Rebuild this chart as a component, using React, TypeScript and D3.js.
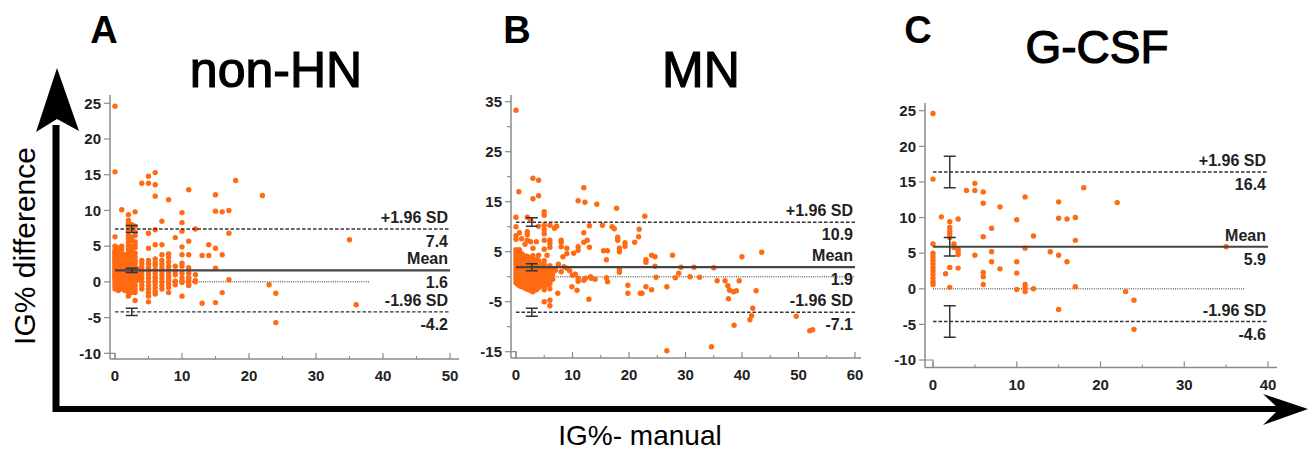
import React from 'react';
import * as d3 from 'd3';

// [x, [y, y, ...]] columns of points
type Col = [number, number[]];

const panelLetters = ['A', 'B', 'C'];
const panelTitles = ['non-HN', 'MN', 'G-CSF'];

const upperLoA = [7.4, 10.9, 16.4];
const meanDiff = [1.6, 1.9, 5.9];
const lowerLoA = [-4.2, -7.1, -4.6];
const upperCI = [[6.9, 7.9], [10.1, 11.8], [14.2, 18.6]];
const meanCI = [[1.3, 1.9], [1.2, 2.6], [4.6, 7.2]];
const lowerCI = [[-4.7, -3.7], [-7.9, -6.3], [-6.8, -2.4]];
const ciAt = [2.5, 2.8, 2];
const zeroLineEnd = [38, 60, 37.3];

const xDomains = [[0, 50], [0, 60], [0, 40]];
const yDomains = [[-10, 25], [-15, 35], [-10, 25]];
const xTickLabels = [[0, 10, 20, 30, 40, 50], [0, 10, 20, 30, 40, 50, 60], [0, 10, 20, 30, 40]];
const xMinorTicks = [[5, 15, 25, 35, 45], [5, 15, 25, 35, 45, 55], [5, 15, 25, 35]];
const yTickLabels = [[-10, -5, 0, 5, 10, 15, 20, 25], [-15, -5, 5, 15, 25, 35], [-10, -5, 0, 5, 10, 15, 20, 25]];
const yMinorTicks = [[], [-10, 0, 10, 20, 30], []];

// G-CSF (panel C)
const gcsfCols: Col[] = [
  [0, [24.6, 15.4, 6.3, 5.0, 4.5, 4.0, 3.5, 3.0, 2.5, 2.0, 1.5, 1.0, 0.6]],
  [1, [10.1]],
  [1.5, [2.1]],
  [2, [9.4, 8.6, 8.1, 7.7, 7.2, 3.0, 0.2]],
  [2.5, [6.3, 5.8]],
  [3, [9.8, 5.6, 5.2, 4.8, 2.9]],
  [4, [13.8]],
  [5, [14.8, 13.8, 4.7]],
  [6, [13.6, 12.0, 7.3, 2.3, 1.7, 0.6]],
  [7, [8.5, 5.2, 3.8]],
  [8, [11.5, 2.8]],
  [10, [9.7, 3.8, 2.2, -0.1]],
  [11, [12.9, 5.7, 0.6, 0.1, -0.4]],
  [12, [7.4, 0]],
  [14, [5.2]],
  [15, [12.2, 9.9, 4.7, -2.9]],
  [16, [9.8, 3.8]],
  [17, [10.0, 6.8, 0.3]],
  [18, [14.2]],
  [22, [12.1]],
  [23, [-0.4]],
  [24, [-1.6, -5.7]],
  [35, [5.9]],
];

// non-HN (panel A): the G-CSF points plus these
const nonHnOnlyCols: Col[] = [
  [0, [-1.0, -0.6, -0.2, 0.2, 0.6, 1.0, 1.4, 1.8, 2.2, 2.6, 3.0, 3.4, 3.8, 4.2]],
  [0.25, [-0.8, -0.3, 0.2, 0.7, 1.2, 1.7, 2.2, 2.7, 3.2, 3.7, 4.2]],
  [0.5, [-1.2, -0.7, -0.2, 0.3, 0.8, 1.3, 1.8, 2.3, 2.8, 3.3, 3.8, 4.3, 4.8]],
  [0.75, [-0.9, -0.4, 0.1, 0.6, 1.1, 1.6, 2.1, 2.6, 3.1, 3.6, 4.1]],
  [1, [-1.0, -0.5, 0, 0.5, 1.0, 1.5, 2.0, 2.5, 3.0, 3.5, 4.0, 4.5, 5.0]],
  [1.25, [-0.6, -0.1, 0.4, 0.9, 1.4, 1.9, 2.4, 2.9, 3.4]],
  [1.5, [-1.2, -0.7, -0.2, 0.3, 0.8, 1.3, 1.8, 2.3, 2.8, 3.3, 3.8]],
  [2, [-2.0, -1.5, -1.0, -0.5, 0, 0.5, 1.0, 1.5, 2.0, 2.5, 3.5, 4.0, 4.5, 5.0, 5.5, 6.0, 6.5]],
  [2.5, [-1.5, -1.0, -0.5, 0, 0.5, 1.0, 1.5, 2.0, 2.5, 3.0, 3.5, 4.0, 4.5, 5.0, 7.5, 8.0]],
  [3, [-2.6, -1.5, -1.0, -0.5, 0, 0.5, 1.0, 1.5, 2.0, 2.5, 3.0, 3.5, 4.0, 6.5, 7.0, 7.8]],
  [3.5, [0.3, 1.0, 1.8]],
  [4, [-1.0, -0.5, 0, 0.5, 1.0, 1.5, 2.0, 2.5, 3.0]],
  [5, [-2.8, -2.0, -1.5, -1.0, -0.5, 0, 0.5, 1.0, 1.5, 2.0, 2.5, 3.0, 6.8]],
  [6, [-1.7, -1.3, -0.8, -0.3, 0.2, 0.7, 1.2, 2.7, 3.2, 5.2, 15.3]],
  [7, [-1.0, -0.5, 0, 0.5, 1.0, 1.5, 2.0, 2.5, 3.0]],
  [8, [-1.5, -0.8, -0.3, 0.2, 0.7, 1.2, 1.7, 2.2, 3.4, 3.9]],
  [9, [-0.4, 0.1, 1.0, 1.5, 2.2, 6.2]],
  [10, [-2.0, 0.2, 0.6, 1.2, 2.6, 4.9, 7.1, 8.3]],
  [11, [-0.5, 0.5, 1.2, 2.0, 3.8]],
  [12, [0.2, 1.0]],
  [13, [3.7, -3.0]],
  [14, [3.7]],
  [15, [1.9]],
  [16, [-1.5]],
  [36, [-3.2]],
];

// MN (panel B): dense block near zero, then single points
const mnDenseCols: Col[] = [
  [0, [-1.2, -0.6, 0, 0.6, 1.2, 1.8, 2.4, 3.0, 3.6, 4.2, 4.8, 5.4]],
  [0.3, [-1.5, -0.9, -0.3, 0.3, 0.9, 1.5, 2.1, 2.7, 3.3, 3.9, 4.5, 5.1]],
  [0.6, [-1.8, -1.2, -0.6, 0, 0.6, 1.2, 1.8, 2.4, 3.0, 3.6, 4.2, 4.8, 5.4]],
  [1.0, [-2.0, -1.4, -0.8, -0.2, 0.4, 1.0, 1.6, 2.2, 2.8, 3.4, 4.0, 4.6]],
  [1.3, [-1.7, -1.1, -0.5, 0.1, 0.7, 1.3, 1.9, 2.5, 3.1, 3.7, 4.3]],
  [1.6, [-2.3, -1.7, -1.1, -0.5, 0.1, 0.7, 1.3, 1.9, 2.5, 3.1, 3.7]],
  [2.0, [-2.5, -1.9, -1.3, -0.7, -0.1, 0.5, 1.1, 1.7, 2.3, 2.9, 3.5, 4.1]],
  [2.3, [-1.6, -1.0, -0.4, 0.2, 0.8, 1.4, 2.0, 2.6, 3.2, 3.8]],
  [2.6, [-2.8, -2.2, -1.6, -1.0, -0.4, 0.2, 0.8, 1.4, 2.0, 2.6, 3.2]],
  [3.0, [-3.0, -2.4, -1.8, -1.2, -0.6, 0, 0.6, 1.2, 1.8, 2.4, 3.0, 3.6, 4.2]],
  [3.3, [-2.0, -1.4, -0.8, -0.2, 0.4, 1.0, 1.6, 2.2, 2.8]],
  [3.6, [-2.6, -2.0, -1.4, -0.8, -0.2, 0.4, 1.0, 1.6, 2.2, 3.4]],
  [4.0, [-2.2, -1.6, -1.0, -0.4, 0.2, 0.8, 1.4, 2.0, 3.2, 4.3]],
  [4.5, [-1.8, -1.2, -0.6, 0, 0.6, 1.2, 2.4]],
  [5.0, [-2.6, -2.0, -1.4, -0.8, -0.2, 0.4, 1.0, 1.6, 2.4, 3.2]],
  [5.5, [-1.5, -0.9, -0.3, 0.3, 0.9, 1.5, 4.3]],
  [6.0, [-2.4, -1.4, -0.8, -0.2, 0.4, 1.2, 2.2]],
  [6.5, [-0.5, 0.5, 1.5]],
];

const mnScatter: [number, number][] = [
  [0, 33.3], [0.5, 17.0], [3, 19.7], [4, 19.3], [3, 15.6], [4, 16.2], [0, 11.9], [2, 11.9], [5, 13.0], [5, 12.3],
  [12, 17.8], [11, 15.2], [12.2, 14.9], [14.3, 14.5], [17.8, 13.7], [22.8, 12.1],
  [0, 10.0], [0, 8.2], [0, 7.5], [0.6, 8.8], [1.0, 7.6], [1.6, 6.5], [2, 9.0], [2, 8.4], [2, 7.3], [2.6, 7.0], [2.6, 11.4],
  [3, 5.7], [3.6, 7.0], [4, 10.1], [5, 10.3], [5, 9.4], [5, 8.6], [5, 7.3], [5, 5.5],
  [6, 10.3], [6.8, 9.7], [7.2, 10.1], [6, 7.3], [6, 6.7], [6, 5.9], [8, 7.3], [8, 6.9], [8, 6.0], [9, 5.7], [9, 4.6], [8.3, 4.0],
  [10.2, 4.7], [11, 5.3], [11, 6.0], [12, 6.9], [12, 8.8], [12.6, 7.3], [13, 10.2], [13, 5.9], [15.3, 10.3], [17, 10.0], [17.4, 9.6],
  [15.5, 5.2], [16.2, 5.2], [16, 3.4], [18, 7.9], [18, 7.3], [18.3, 5.7], [18.3, 5.0], [19.3, 6.8], [19.3, 6.1], [21, 6.9],
  [21.8, 9.5], [21.7, 8.0], [18.3, 1.5], [18.3, 0.9], [23, 3.4], [23, 2.9], [24, 4.3], [24.6, 4.0], [24.6, 2.1], [24.8, -0.1],
  [27.7, 4.3], [28.8, 0.7], [29.2, 1.9], [28.2, -0.2], [30.8, 0], [31.5, 1.9], [32.5, -0.1], [35, 1.8], [35.6, -0.8],
  [37, -0.8], [37.5, -1.8], [37.8, -2.7], [37.6, -4.4], [38.5, -3.0], [39, -2.8], [39.5, -0.8], [40, 4.0], [38.6, -9.7],
  [41.9, -6.3], [41.7, -7.8], [41.4, -8.6], [42.5, -2.8], [43.5, 4.9], [49.6, -7.9], [52, -10.8], [52.5, -10.6],
  [26.7, -14.8], [34.6, -14.0], [19.8, -3.3], [19.8, -1.7], [22, -3.3], [22.3, -3.3], [23, -2.0], [24, -2.6], [26.7, -2.0],
  [9.9, -2.0], [10.8, -2.7], [12.9, -4.5], [7.4, -3.3], [11, -0.3], [12.3, -0.3], [13.3, -0.3], [16, -0.2], [16.2, -1.0],
  [7, 1.3], [8, 1.0], [9, 1.7], [10, 0.3], [11, -0.9], [12, -0.7], [14, -0.5], [13.2, 0], [5, -5.0], [6, -4.7], [6, -5.8],
  [7.5, 2.5], [8.5, 2.0], [9.5, 1.2], [10.5, 0.5],
];

const fromCols = (cols: Col[]): [number, number][] => cols.flatMap(([x, ys]) => ys.map((y) => [x, y] as [number, number]));

const panelPoints = [
  [...fromCols(gcsfCols), ...fromCols(nonHnOnlyCols)],
  [...fromCols(mnDenseCols), ...mnScatter],
  fromCols(gcsfCols),
];

// pixel layout of each panel
const layouts = [
  { spineX: 110, x0: 115, x1: 450, yTop: 103.3, yBottom: 353.3, axisY: 359, spineTop: 95, axisEnd: 459, letterX: 104, titleX: 276, titleY: 87, titleSize: 50 },
  { spineX: 511, x0: 516, x1: 855, yTop: 101.7, yBottom: 351.7, axisY: 358, spineTop: 95, axisEnd: 861, letterX: 517, titleX: 701, titleY: 87, titleSize: 50 },
  { spineX: 925, x0: 933, x1: 1268, yTop: 110.7, yBottom: 360, axisY: 367.5, spineTop: 103, axisEnd: 1277, letterX: 918, titleX: 1097, titleY: 63, titleSize: 46 },
];

const FONT = '"Liberation Sans", Arial, Helvetica, sans-serif';
const ORANGE = '#ff6a13';
const INK = '#222';
const AXIS = '#8a8a8a';

function Panel({ i }: { i: number }) {
  const L = layouts[i];
  const x = d3.scaleLinear().domain(xDomains[i]).range([L.x0, L.x1]);
  const y = d3.scaleLinear().domain(yDomains[i]).range([L.yBottom, L.yTop]);
  const yMin = yDomains[i][0];
  const xEnd = xDomains[i][1];

  const refLines = [
    { v: upperLoA[i], label: '+1.96 SD', ci: upperCI[i], dash: '3.5,2', w: 1.4, color: '#333' },
    { v: meanDiff[i], label: 'Mean', ci: meanCI[i], dash: null, w: 2.2, color: '#444' },
    { v: lowerLoA[i], label: '-1.96 SD', ci: lowerCI[i], dash: '3.5,2', w: 1.4, color: '#333' },
  ];

  return (
    <g>
      {/* axes */}
      <line x1={L.spineX} x2={L.spineX} y1={L.spineTop} y2={L.axisY} stroke={AXIS} strokeWidth={1.5} />
      <line x1={L.spineX} x2={L.axisEnd} y1={L.axisY} y2={L.axisY} stroke={AXIS} strokeWidth={1.5} />
      <path d={`M${L.spineX},${y(yMin)}H${x(0)}V${L.axisY}`} fill="none" stroke={AXIS} strokeWidth={1.2} />
      {yTickLabels[i].map((t) => (
        <g key={'yt' + t}>
          <line x1={L.spineX - 6} x2={L.spineX} y1={y(t)} y2={y(t)} stroke={AXIS} strokeWidth={1.2} />
          <text x={L.spineX - 9} y={y(t)} dy="0.35em" textAnchor="end" fontSize={15} fontWeight="bold" fill={INK}>
            {t}
          </text>
        </g>
      ))}
      {yMinorTicks[i].map((t) => (
        <line key={'ym' + t} x1={L.spineX - 4} x2={L.spineX} y1={y(t)} y2={y(t)} stroke={AXIS} strokeWidth={1.1} />
      ))}
      {xTickLabels[i].map((t) => (
        <g key={'xt' + t}>
          <line x1={x(t)} x2={x(t)} y1={L.axisY - 6} y2={L.axisY} stroke={AXIS} strokeWidth={1.2} />
          <text x={x(t)} y={L.axisY + 22} textAnchor="middle" fontSize={15} fontWeight="bold" fill={INK}>
            {t}
          </text>
        </g>
      ))}
      {xMinorTicks[i].map((t) => (
        <line key={'xm' + t} x1={x(t)} x2={x(t)} y1={L.axisY - 3} y2={L.axisY} stroke={AXIS} strokeWidth={1.1} />
      ))}

      {/* zero line */}
      <line x1={x(0)} x2={x(zeroLineEnd[i])} y1={y(0)} y2={y(0)} stroke="#777" strokeWidth={1.5} strokeDasharray="1,1.2" />

      {/* points */}
      {panelPoints[i].map(([px, py], k) => (
        <circle key={k} cx={x(px)} cy={y(py)} r={2.7} fill={ORANGE} />
      ))}

      {/* limits of agreement, mean, CIs */}
      {refLines.map((r) => (
        <g key={r.label}>
          <line
            x1={x(0)}
            x2={x(xEnd)}
            y1={y(r.v)}
            y2={y(r.v)}
            stroke={r.color}
            strokeWidth={r.w}
            strokeDasharray={r.dash || undefined}
          />
          <path
            d={`M${x(ciAt[i]) - 6},${y(r.ci[0])}H${x(ciAt[i]) + 6}M${x(ciAt[i])},${y(r.ci[0])}V${y(r.ci[1])}M${x(ciAt[i]) - 6},${y(r.ci[1])}H${x(ciAt[i]) + 6}`}
            fill="none"
            stroke="#333"
            strokeWidth={1.5}
          />
          <text x={x(xEnd) - 2} y={y(r.v) - 6} textAnchor="end" fontSize={16} fontWeight="bold" fill={INK}>
            {r.label}
          </text>
          <text x={x(xEnd) - 2} y={y(r.v) + 18} textAnchor="end" fontSize={16} fontWeight="bold" fill={INK}>
            {r.v.toFixed(1)}
          </text>
        </g>
      ))}

      {/* headings */}
      <text x={L.letterX} y={43} textAnchor="middle" fontSize={38} fontWeight="bold" fill="#000">
        {panelLetters[i]}
      </text>
      <text
        x={L.titleX}
        y={L.titleY}
        textAnchor="middle"
        fontSize={L.titleSize}
        fill="#000"
        stroke="#000"
        strokeWidth={1.2}
      >
        {panelTitles[i]}
      </text>
    </g>
  );
}

export default function App() {
  return (
    <svg
      width={1309}
      height={451}
      style={{ position: 'absolute', left: 0, top: 0, background: '#fff', fontFamily: FONT }}
    >
      <rect width={1309} height={451} fill="#fff" />
      {/* big frame arrows */}
      <line x1={56} x2={56} y1={125} y2={412} stroke="#000" strokeWidth={7} />
      <path d="M57,68L79,131L57,119L36,132Z" fill="#000" />
      <line x1={53} x2={1282} y1={409} y2={409} stroke="#000" strokeWidth={6} />
      <path d="M1308,409L1263,394L1279,409L1263,425Z" fill="#000" />

      <text
        transform="translate(24,246) rotate(-90)"
        textAnchor="middle"
        dy="0.35em"
        fontSize={30}
        fill="#000"
      >
        IG% difference
      </text>
      <text x={640} y={445} textAnchor="middle" fontSize={28} fill="#000">
        IG%- manual
      </text>

      {[0, 1, 2].map((i) => (
        <Panel key={i} i={i} />
      ))}
    </svg>
  );
}
